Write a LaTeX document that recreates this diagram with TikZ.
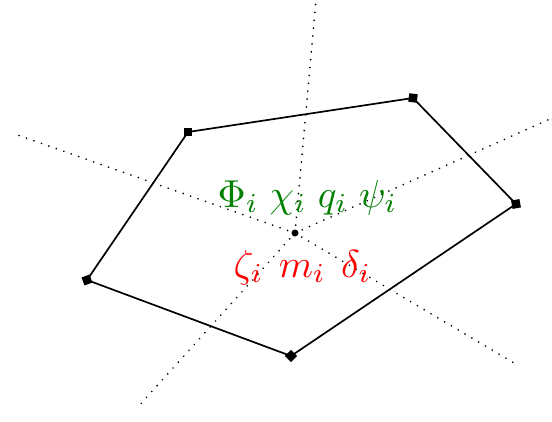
\documentclass[tikz,border=0pt]{standalone}
\begin{document}
\begin{tikzpicture}[x=1pt,y=-1pt,
  ray/.style={line width=1.9pt,line cap=round,dash pattern=on 0.01pt off 7.9pt,black},
  edge/.style={line width=1.7pt,black},
  vmark/.style={fill=black,minimum size=8.5pt,inner sep=0pt,rectangle},
  lbl/.style={inner sep=0pt,scale=3.9}]
\useasboundingbox (0,0) rectangle (552,421);
\coordinate (c) at (295,233);
\coordinate (r1) at (316,0);
\coordinate (r2) at (136,409);
\coordinate (r3) at (12,133);
\coordinate (r4) at (514,363);
\coordinate (r5) at (550,119);
\foreach \r in {r1,r2,r3,r4,r5} \draw[ray] (c) -- (\r);
\node[vmark] (v1) at (188,132) {};
\node[vmark,rotate=-8] (v2) at (413,98) {};
\node[vmark,rotate=10] (v3) at (516,204) {};
\node[vmark,rotate=45] (v4) at (291,356) {};
\node[vmark,rotate=20] (v5) at (87,280) {};
\draw[edge] (v1.center) -- (v2.center) -- (v3.center) -- (v4.center) -- (v5.center) -- cycle;
\fill (c) circle (3.5);
\node[lbl,text=green!50!black,anchor=base] (g) at (307.5,207) {$\Phi_i\;\chi_i\;q_i\;\psi_i$};
\node[lbl,text=red,anchor=base] (rd) at (302.5,277) {$\zeta_i\mkern7mu m_i\mkern7mu \delta_i$};
\end{tikzpicture}
\end{document}
